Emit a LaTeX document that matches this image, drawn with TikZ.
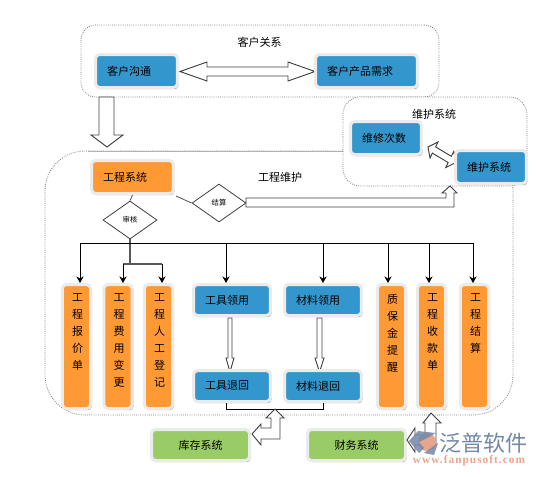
\documentclass[tikz,border=0pt]{standalone}
\usepackage{fontspec}
\setmainfont{Noto Sans CJK SC}
\newfontfamily\urlfont[LetterSpace=9]{Liberation Serif}
\usetikzlibrary{arrows.meta,shapes.geometric,shadows}
\definecolor{sysBlue}{HTML}{3396CC}
\definecolor{sysOrange}{HTML}{FF9933}
\definecolor{sysGreen}{HTML}{99CC66}
\definecolor{sysHalo}{HTML}{EBEBEB}
\definecolor{markBlue}{HTML}{7388A8}
\definecolor{markRed}{HTML}{E8A48C}
\newcommand{\vlabel}[1]{\hspace*{1.5pt}\parbox[c][79pt][t]{12pt}{\centering\baselineskip=12.75pt #1\par}}
\tikzset{
  cbox/.style={draw=sysHalo, line width=2.25pt, rounded corners=3pt, inner ysep=0pt, font=\fontsize{8.25}{10}\selectfont},
  blue/.style={cbox, fill=sysBlue, align=left, text width=#1, inner xsep=8.6pt, minimum height=24.75pt,
    drop shadow={shadow xshift=0.8pt, shadow yshift=-1.3pt, fill=black!42, opacity=1}},
  orange/.style={cbox, fill=sysOrange, align=left, text width=#1, inner xsep=8.6pt, minimum height=24.75pt,
    drop shadow={shadow xshift=0.8pt, shadow yshift=-1.3pt, fill=red!35!black!35, opacity=1}},
  bar/.style={cbox, fill=sysOrange, inner xsep=0pt, minimum width=21.25pt, minimum height=93pt,
    drop shadow={shadow xshift=1pt, shadow yshift=-1.3pt, fill=red!35!black!35, opacity=1}},
  green/.style={cbox, fill=sysGreen, inner sep=0pt, minimum width=73.5pt, minimum height=23.25pt,
    drop shadow={shadow xshift=0.8pt, shadow yshift=-1.3pt, fill=black!35, opacity=1}},
  group/.style={draw=black!55, densely dotted, line width=0.6pt, inner sep=0pt},
  choice/.style={diamond, draw=black!75, fill=white, line width=0.6pt, inner sep=0pt, minimum width=40.5pt, minimum height=28.5pt, font=\fontsize{5.5}{6}\selectfont},
  hollow/.style={draw=black!75, fill=white, line width=0.7pt, line join=miter},
  lab/.style={font=\fontsize{8.25}{10}\selectfont},
}
\begin{document}
\begin{tikzpicture}[x=0.75pt,y=-0.75pt,
  bus/.style={draw=black, line width=0.6pt},
  >={Stealth[length=5pt,width=5.5pt]}]
\useasboundingbox (0,0) rectangle (538,476);
% groups
\node[group, rounded corners=30pt, minimum width=351pt, minimum height=198pt] (workGroup) at (279,283) {};
\draw[black!30, line width=0.7pt] (88,151) -- (344,151);
\node[group, rounded corners=11pt, minimum width=268.5pt, minimum height=54pt] (custGroup) at (260,61) {};
\node[group, fill=white, rounded corners=13pt, minimum width=138pt, minimum height=66.75pt] (maintGroup) at (435,141.5) {};
\node[lab] (custTitle) at (259.5,42) {客户关系};
\node[lab] (maintTitle) at (434,114) {维护系统};
\node[lab] (workTitle) at (280,177) {工程维护};
% hollow arrows
\draw[hollow] (180,71.5) -- (207,62) -- (207,67) -- (288,67) -- (288,62) -- (315,71.5) -- (288,81) -- (288,76) -- (207,76) -- (207,81) -- cycle;
\draw[hollow] (99,97) -- (114,97) -- (114,135) -- (123,135) -- (107,147) -- (91,135) -- (99,135) -- cycle;
\draw[hollow] (246,198) -- (446,198) -- (446,193) -- (442,193) -- (450,186) -- (457,193) -- (454,193) -- (454,207) -- (246,207) -- cycle;
\draw[hollow] (428,147) -- (438,142) -- (435.6,146.9) -- (451.3,156.3) -- (453.7,151.4) -- (456,162.5) -- (445.7,167.5) -- (448.1,162.5) -- (432.4,153.1) -- (430,158) -- cycle;
\draw[hollow] (228,318) -- (232,318) -- (232,358) -- (234,358) -- (230,372) -- (226,358) -- (228,358) -- cycle;
\draw[hollow] (317,318) -- (322,318) -- (322,358) -- (324,358) -- (319.5,372) -- (315,358) -- (317,358) -- cycle;
% boxes
\node[blue=44.25pt] (custTalk) at (136.5,71) {客户沟通};
\node[blue=59.25pt] (custNeed) at (366.5,71) {客户产品需求};
\node[orange=44.25pt] (workSys) at (132.5,177) {工程系统};
\node[blue=36pt] (repairCount) at (386,138) {维修次数};
\node[blue=36pt] (maintSys) at (491,167) {维护系统};
\node[blue=40.5pt, minimum height=23.25pt] (toolGet) at (232,300) {工具领用};
\node[blue=40.5pt, minimum height=23.25pt] (toolBack) at (232,386) {工具退回};
\node[blue=40.5pt, minimum height=23.25pt] (matGet) at (323,300) {材料领用};
\node[blue=40.5pt, minimum height=23.25pt] (matBack) at (323,386) {材料退回};
\foreach \nm/\xo/\txt in {quote/76.5/{工\\程\\报\\价\\单}, change/118/{工\\程\\费\\用\\变\\更}, labor/158.5/{工\\程\\人\\工\\登\\记},
    deposit/391.5/{质\\保\\金\\提\\醒}, receipt/431.5/{工\\程\\收\\款\\单}, settle/474.5/{工\\程\\结\\算}}
  \node[bar] (\nm) at (\xo,346.5) {\vlabel{\txt}};
\node[green] (stockSys) at (200.5,445) {库存系统};
\node[green] (financeSys) at (356.5,445) {财务系统};
\node[choice] (audit) at (130,220) {审核};
\node[choice] (balance) at (219,203) {结算};
% connectors
\coordinate (busL) at (80,243);
\coordinate (busR) at (473,243);
\coordinate (forkL) at (123,264);
\coordinate (forkR) at (162,264);
\draw[black!70, line width=0.6pt] (workSys.south) -- (audit.north);
\draw[black!70, line width=0.6pt] (workSys.south east) ++(1,1) -- (balance.west);
\draw[black!65, line width=0.9pt] (audit.south) -- (audit.south |- forkL);
\draw[bus] (busL) -- (busR);
\draw[black!65, line width=0.9pt] (forkL) -- (forkR);
\foreach \tgt/\xo/\yo in {quote/80/243, change/123/264, labor/162/264, toolGet/226/243, matGet/323/243, deposit/388/243, receipt/429/243, settle/473/243}
  \draw[bus, ->] (\xo,\yo) -- (\xo,0 |- \tgt.north);
\coordinate (returnL) at (226,409);
\coordinate (returnR) at (323,409);
\draw[bus] (returnL |- toolBack.south) -- (returnL) -- (returnR) -- (matBack.south);
\draw[hollow] (275,409) -- (284,418) -- (280,418) -- (280,439) -- (261,439) -- (261,445) -- (252,434) -- (261,424) -- (261,428) -- (271,428) -- (271,418) -- (266,418) -- cycle;
\draw[hollow] (431,413) -- (441,423) -- (436,423) -- (436,445) -- (415,445) -- (415,452) -- (407,440) -- (415,428) -- (415,435) -- (425,435) -- (425,423) -- (423,423) -- cycle;
% mark
\fill[markRed] (427,442) circle[radius=9];
\fill[markBlue, opacity=0.85] (409,441) -- (418,431) -- (436,433) -- (427,438) -- (419,442) -- (424,448) -- (419,453) -- cycle;
\fill[markBlue, opacity=0.85] (424,453) -- (438,443) -- (434,455) -- cycle;
\node[text=markBlue, font=\fontsize{16.5}{18}\selectfont, inner sep=0pt] (markName) at (483,443) {泛普软件};
\node[text=markRed, font=\urlfont\bfseries\fontsize{8.5}{10}\selectfont, inner sep=0pt] (markUrl) at (469,461) {www.fanpusoft.com};
\end{tikzpicture}
\end{document}
